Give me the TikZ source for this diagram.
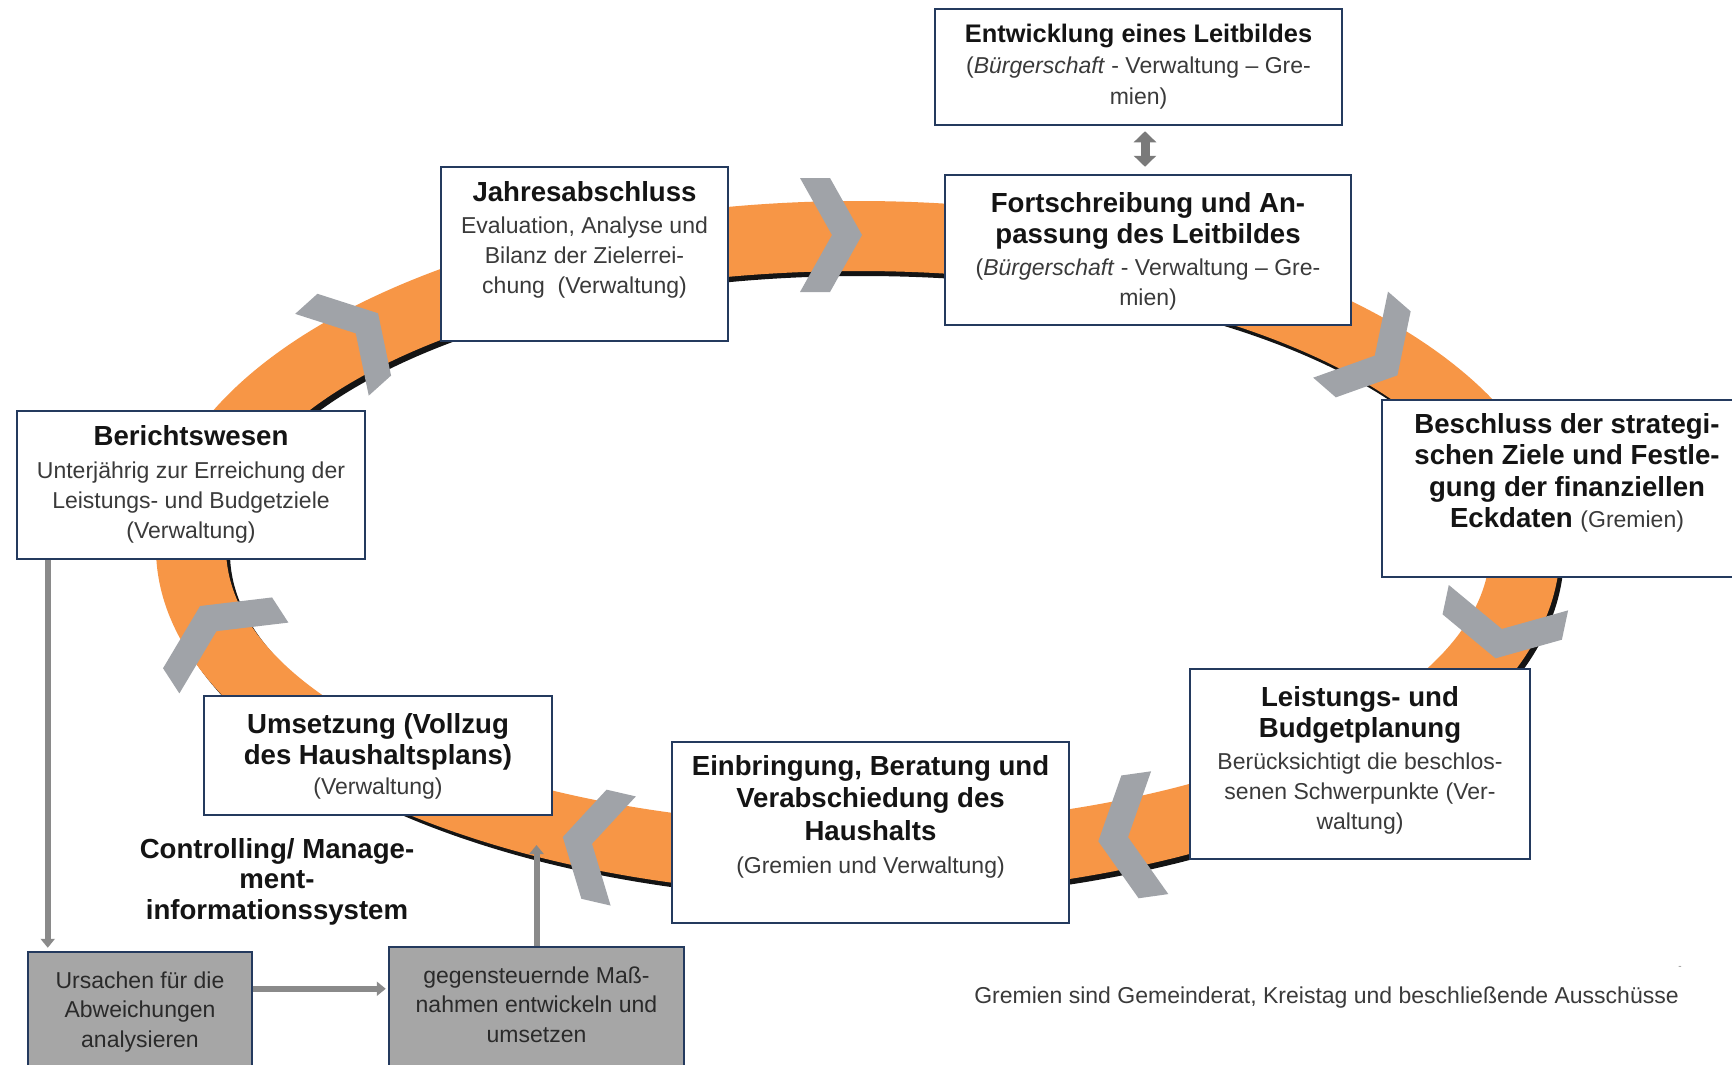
\documentclass[tikz,border=0pt]{standalone}
\usepackage{fontspec}
\setmainfont{Liberation Sans}
\usetikzlibrary{arrows.meta,calc}
\setlength\parindent{0pt}
\setlength\parskip{0pt}
\definecolor{ringorange}{HTML}{F79646}
\definecolor{chevgray}{HTML}{A0A3A8}
\definecolor{boxnavy}{HTML}{243A5E}
\definecolor{grayfill}{HTML}{A6A6A6}
\definecolor{conngray}{HTML}{8A8A8A}
\definecolor{dblgray}{HTML}{7A7A7A}
\definecolor{titlecol}{HTML}{141414}
\definecolor{bodycol}{HTML}{3A3A3A}
\definecolor{graytext}{HTML}{2A2A2A}
\newcommand\NormSp{\spaceskip=\fontdimen2\font\relax\xspaceskip=\fontdimen2\font\relax}
\newcommand\Ttl{\leavevmode\fontsize{27.6}{31.5}\selectfont\bfseries\NormSp\color{titlecol}}
\newcommand\TtlS{\leavevmode\fontsize{25.4}{31}\selectfont\bfseries\NormSp\color{titlecol}}
\newcommand\Bdy{\leavevmode\fontsize{23}{30}\selectfont\mdseries\NormSp\color{bodycol}}
\newcommand\BdyG{\leavevmode\fontsize{23}{29.5}\selectfont\mdseries\NormSp\color{graytext}}
\newcommand\chev[4]{\fill[chevgray,shift={(#1,#2)},rotate=#3] (-31,-#4) -- (-1,-#4) -- (31,0) -- (-1,#4) -- (-31,#4) -- (1,0) -- cycle;}
\begin{document}
\begin{tikzpicture}[x=1pt,y=-1pt,
  box/.style={draw=boxnavy,line width=2.5pt,fill=white,inner sep=0pt},
  graybox/.style={draw=boxnavy,line width=2.5pt,fill=grayfill,inner sep=0pt},
  txt/.style={anchor=base,inner sep=0pt,align=center},
  conn/.style={draw=conngray,line width=6pt,-{Triangle[width=14pt,length=9pt]}},
  dbl/.style={draw=dblgray,line width=9pt,{Triangle[width=22pt,length=11pt]}-{Triangle[width=22pt,length=11pt]}}]
\useasboundingbox (0,0) rectangle (1732,1065);
\clip (0,0) rectangle (1732,1065);
\fill[white] (0,0) rectangle (1732,1065);
% ring shadow and ring
\fill[black!92,even odd rule,shift={(4,5)}] (858,548) ellipse [x radius=702pt,y radius=347pt] (858,548) ellipse [x radius=632pt,y radius=277pt];
\fill[ringorange,even odd rule] (858,548) ellipse [x radius=702pt,y radius=347pt] (858,548) ellipse [x radius=632pt,y radius=277pt];
% chevrons
\chev{831}{235}{0}{57}
\chev{355}{334}{42}{55}
\chev{1374}{355}{-41}{57}
\chev{1502}{628}{-102}{61}
\chev{1129}{837}{-172}{62}
\chev{593}{844}{-193}{56}
\chev{217}{632}{-237}{65}
% boxes
\node[box,minimum width=407pt,minimum height=116pt] (entw) at (1138.5,67) {};
\node[box,minimum width=406pt,minimum height=150pt] (fort) at (1148,250) {};
\node[box,minimum width=287pt,minimum height=174pt] (jahr) at (584.5,254) {};
\node[box,minimum width=348pt,minimum height=148pt] (beri) at (191,485) {};
\node[box,minimum width=370pt,minimum height=177pt] (besc) at (1567,488.5) {};
\node[box,minimum width=340pt,minimum height=190pt] (leis) at (1360,764) {};
\node[box,minimum width=397pt,minimum height=181pt] (einb) at (870.5,832.5) {};
\node[box,minimum width=348pt,minimum height=119pt] (umse) at (378,755.5) {};
\node[graybox,minimum width=224pt,minimum height=128pt] (ursa) at (140,1016) {};
\node[graybox,minimum width=295pt,minimum height=133pt] (gege) at (536.5,1013.5) {};
% texts
\node[txt,text width=400pt] (entw-t) at (1138.5,43) {{\TtlS Entwicklung eines Leitbildes\par}{\leavevmode\fontsize{23}{31}\selectfont\NormSp\color{bodycol}(\textit{Bürgerschaft} - Verwaltung – Gre-\\mien)\par}};
\node[txt,text width=400pt] (fort-t) at (1148,212) {{\Ttl Fortschreibung und An-\\passung des Leitbildes\par}\vspace{2pt}{\Bdy(\textit{Bürgerschaft} - Verwaltung – Gre-\\mien)\par}};
\node[txt,text width=285pt] (jahr-t) at (584.5,201) {{\Ttl Jahresabschluss\par}\vspace{2pt}{\Bdy Evaluation, Analyse und\\Bilanz der Zielerrei-\\chung~ (Verwaltung)\par}};
\node[txt,text width=345pt] (beri-t) at (191,445) {{\Ttl Berichtswesen\par}\vspace{3pt}{\Bdy Unterjährig zur Erreichung der\\Leistungs- und Budgetziele\\(Verwaltung)\par}};
\node[txt,text width=365pt] (besc-t) at (1567,433) {{\Ttl Beschluss der strategi-\\schen Ziele und Festle-\\gung der finanziellen\\Eckdaten {\Bdy(Gremien)}\par}};
\node[txt,text width=335pt] (leis-t) at (1360,706) {{\Ttl Leistungs- und\\Budgetplanung\par}\vspace{2pt}{\Bdy Berücksichtigt die beschlos-\\senen Schwerpunkte (Ver-\\waltung)\par}};
\node[txt,text width=395pt] (einb-t) at (870.5,775) {{\leavevmode\fontsize{27.6}{32.5}\selectfont\bfseries\NormSp\color{titlecol}Einbringung, Beratung und\\Verabschiedung des\\Haushalts\par}\vspace{3pt}{\Bdy(Gremien und Verwaltung)\par}};
\node[txt,text width=345pt] (umse-t) at (378,733) {{\Ttl Umsetzung (Vollzug\\des Haushaltsplans)\par}{\Bdy(Verwaltung)\par}};
\node[txt,text width=330pt] (ctrl) at (277,858) {{\leavevmode\fontsize{27.6}{30.5}\selectfont\bfseries\NormSp\color{titlecol}Controlling/ Manage-\\ment-\\informationssystem\par}};
\node[txt,text width=222pt] (ursa-t) at (140,988) {{\BdyG Ursachen für die\\Abweichungen\\analysieren\par}};
\node[txt,text width=292pt] (gege-t) at (536.5,983) {{\BdyG gegensteuernde Maß-\\nahmen entwickeln und\\umsetzen\par}};
\node[txt,text width=760pt] (foot) at (1326.5,1003) {{\Bdy Gremien sind Gemeinderat, Kreistag und beschließende Ausschüsse\par}};
\node[inner sep=0pt,text=black!45,font=\fontsize{10}{10}\selectfont] (dash) at (1680,968) {-};
% connectors
\draw[dbl,shorten <=5pt,shorten >=7pt] ([xshift=6.5pt]entw.south) -- ([xshift=-3pt]fort.north);
\draw[conn,shorten >=3pt] ([xshift=32pt]beri.south west) -- ([xshift=21pt]ursa.north west);
\draw[conn,shorten >=2pt] ([yshift=-38pt]ursa.north east) -- ([yshift=-43pt]gege.north west);
\coordinate (upend) at (536.5,845);
\draw[conn] (gege.north) -- (upend);
\end{tikzpicture}
\end{document}
